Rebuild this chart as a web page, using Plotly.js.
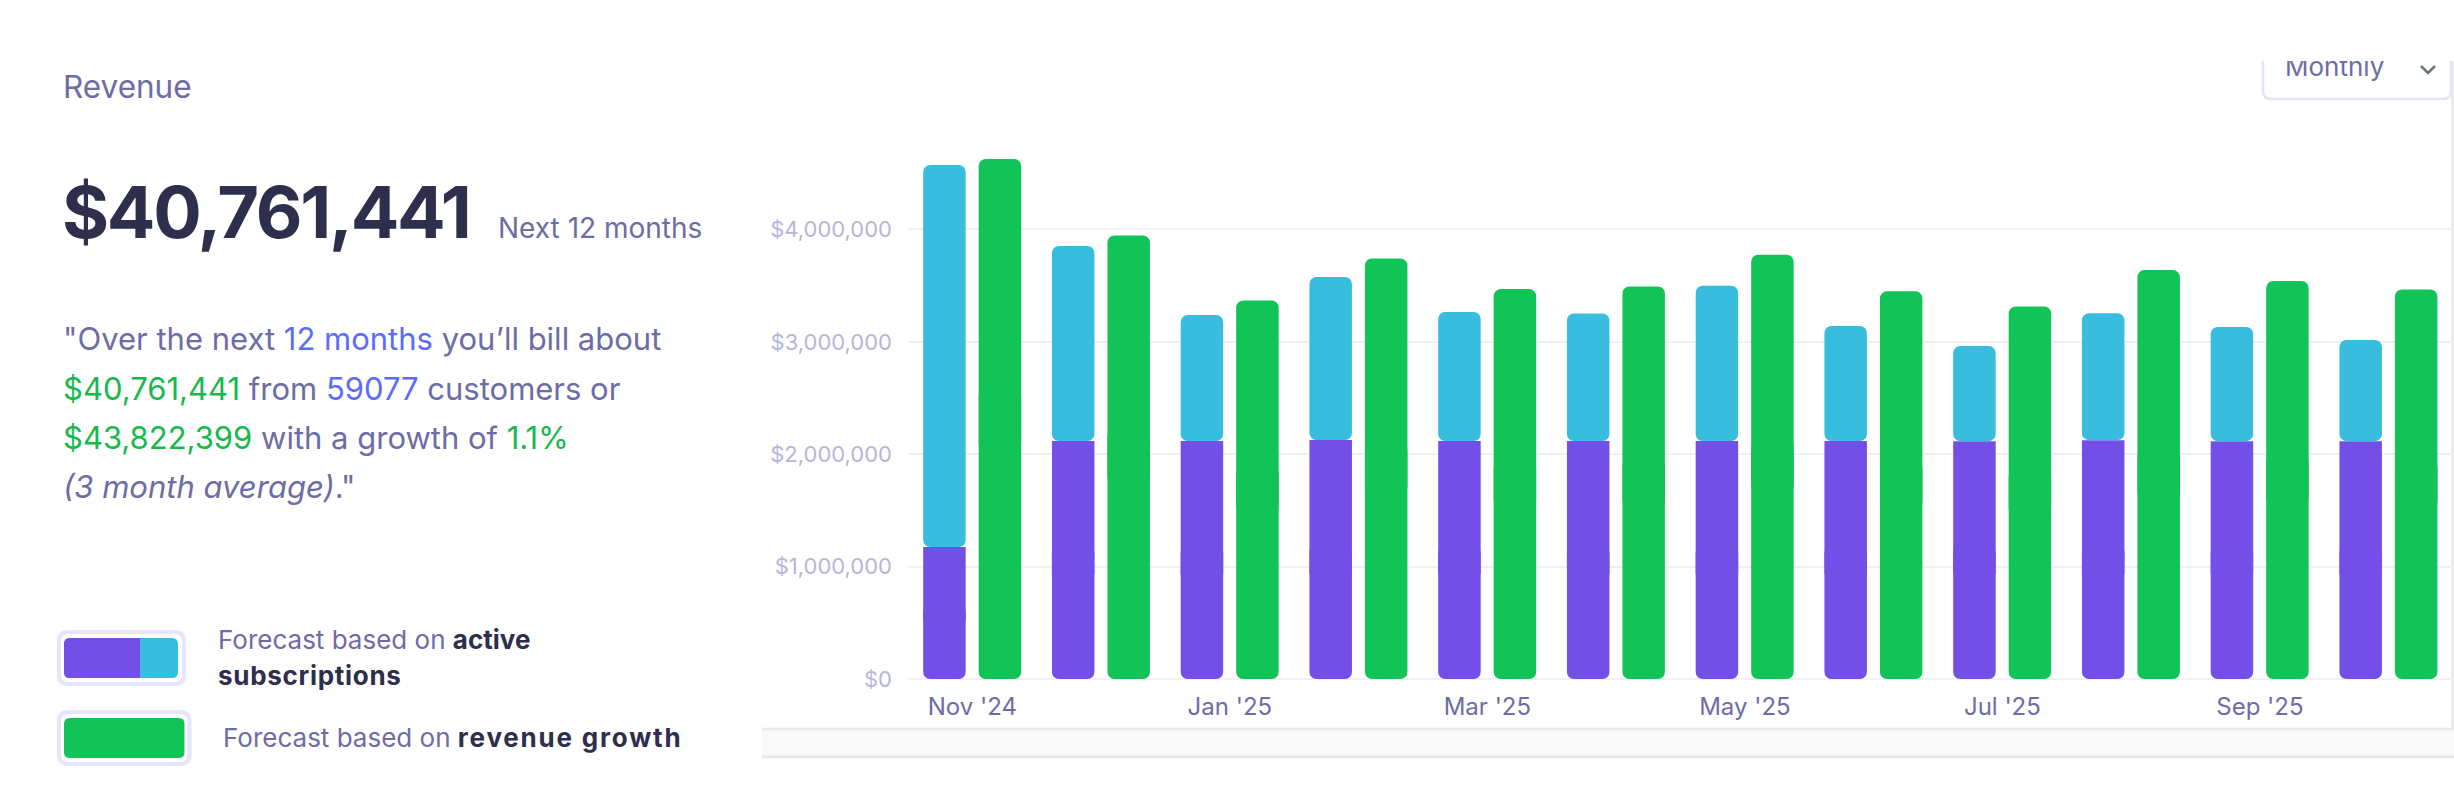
<!DOCTYPE html>
<html>
<head>
<meta charset="utf-8">
<script src="https://cdn.plot.ly/plotly-3.0.1.min.js"></script>
<style>
html,body{margin:0;padding:0;background:#fff;overflow:hidden}
#chart{width:2454px;height:806px;position:absolute;left:0;top:0}
#mask{position:absolute;left:2236px;top:0;width:218px;height:61px;background:#fff;z-index:10}
</style>
</head>
<body>
<div id="chart"></div>
<div id="mask"></div>
<script>
// ---------------- data ----------------
const months = ["Nov '24","Dec '24","Jan '25","Feb '25","Mar '25","Apr '25","May '25","Jun '25","Jul '25","Aug '25","Sep '25","Oct '25"];
const activeBase = [1175000,2117000,2117000,2127000,2117000,2117000,2117000,2117000,2116000,2125000,2116000,2116000];
const activeExtra = [3398000,1735000,1122000,1449000,1149000,1135000,1381000,1023000,846000,1130000,1016000,901000];
const growthForecast = [4627000,3946000,3367000,3742000,3469000,3493000,3775000,3449000,3314000,3638000,3542000,3465000];
const tickLabels = ["Nov '24","Jan '25","Mar '25","May '25","Jul '25","Sep '25"];
const yTicks = [0,1000000,2000000,3000000,4000000];
const yTickText = yTicks.map(v => '$' + v.toLocaleString('en-US'));

// ---------------- geometry helpers ----------------
const W = 2454, H = 806;
const ML = 908, MR = 1, MT = 117, MB = 127;
const PW = W - ML - MR, PH = H - MT - MB;
const fx = x => (x - ML) / PW;
const fy = y => (H - MB - y) / PH;

const PURPLE = '#734fe8', CYAN = '#38bddf', GREEN = '#12c357';
const TXT = '#6c6ca6', BLUE = '#5b6cfa', GRN = '#16b94e', DARK = '#2e2e4d';
const FONT = 'Inter, "Noto Sans", sans-serif';

function rr(x0, y0, x1, y1, r, corners) {
  const c = corners || [1,1,1,1];
  const P = (x, y) => fx(x) + ',' + fy(y);
  let d = 'M' + P(x0 + (c[0]?r:0), y0);
  d += ' L' + P(x1 - (c[1]?r:0), y0);
  if (c[1]) d += ' Q' + P(x1, y0) + ' ' + P(x1, y0 + r);
  d += ' L' + P(x1, y1 - (c[2]?r:0));
  if (c[2]) d += ' Q' + P(x1, y1) + ' ' + P(x1 - r, y1);
  d += ' L' + P(x0 + (c[3]?r:0), y1);
  if (c[3]) d += ' Q' + P(x0, y1) + ' ' + P(x0, y1 - r);
  d += ' L' + P(x0, y0 + (c[0]?r:0));
  if (c[0]) d += ' Q' + P(x0, y0) + ' ' + P(x0 + r, y0);
  return d + ' Z';
}
function pathShape(d, fill) {
  return {type:'path', xref:'paper', yref:'paper', path:d, fillcolor:fill,
          line:{color:'rgba(0,0,0,0)', width:0}, layer:'above'};
}
function lineShape(x0,y0,x1,y1,color,width){
  return {type:'line', xref:'paper', yref:'paper', x0:fx(x0), y0:fy(y0), x1:fx(x1), y1:fy(y1),
          line:{color:color, width:width}, layer:'below'};
}
function txt(x, yMid, text, size, color) {
  return {xref:'paper', yref:'paper', x:fx(x), y:fy(yMid), text:text,
    showarrow:false, xanchor:'left', yanchor:'middle',
    font:{family:FONT, size:size, color:color}};
}

// ---------------- bar traces ----------------
// each bar is drawn as two overlapping pieces so that both its ends get rounded corners
const BW = 0.33, OFF_A = -0.382, OFF_B = 0.049, R = 7;
const lowBase = a => a.map(v => v * 0.56);
const lowLen = a => a.map(v => -v * 0.56);
const highBase = a => a.map(v => v * 0.44);
const highLen = a => a.map(v => v * 0.56);
function bar(base, y, color, offset, radius) {
  return {type:'bar', x:months, y:y, base:base, width:BW, offset:offset,
    marker:{color:color, line:{width:0}, cornerradius:radius},
    hoverinfo:'skip', showlegend:false};
}
const traces = [
  bar(lowBase(activeBase), lowLen(activeBase), PURPLE, OFF_A, R),
  bar(highBase(activeBase), highLen(activeBase), PURPLE, OFF_A, 0),
  bar(activeBase, activeExtra, CYAN, OFF_A, R),
  bar(lowBase(growthForecast), lowLen(growthForecast), GREEN, OFF_B, R),
  bar(highBase(growthForecast), highLen(growthForecast), GREEN, OFF_B, R)
];

// ---------------- decorations ----------------
const shapes = [
  {type:'rect', xref:'paper', yref:'paper', x0:fx(762), x1:fx(2454), y0:fy(757), y1:fy(729),
   fillcolor:'#f9f9f9', line:{width:0}, layer:'below'},
  lineShape(762, 729, 2454, 729, '#e8e8ea', 2.5),
  lineShape(762, 757, 2454, 757, '#e8e8ea', 2.5),
  lineShape(2452.5, 61, 2452.5, 729, '#e8e8ea', 2.5),
  {type:'path', xref:'paper', yref:'paper',
   path:'M' + fx(2263)+','+fy(40) + ' L' + fx(2263)+','+fy(91) + ' Q' + fx(2263)+','+fy(99)+' '+fx(2271)+','+fy(99) +
        ' L' + fx(2443)+','+fy(99) + ' Q' + fx(2451)+','+fy(99)+' '+fx(2451)+','+fy(91) + ' L' + fx(2451)+','+fy(40),
   line:{color:'#e4e4f8', width:2.5}, layer:'above'},
  {type:'path', xref:'paper', yref:'paper',
   path:'M' + fx(2421)+','+fy(66) + ' L' + fx(2428)+','+fy(73) + ' L' + fx(2435)+','+fy(66),
   line:{color:'#6b7280', width:2.5}, layer:'above'},
  pathShape(rr(57, 630, 186, 686, 11), '#e6e6fb'),
  pathShape(rr(61, 634, 182, 682, 8), '#ffffff'),
  pathShape(rr(64, 638, 178, 678, 6), CYAN),
  pathShape(rr(64, 638, 140, 678, 6, [1,0,0,1]), PURPLE),
  pathShape(rr(57, 710, 191.5, 766, 11), '#e6e6fb'),
  pathShape(rr(61, 714, 187.5, 762, 8), '#ffffff'),
  pathShape(rr(64, 718, 184.5, 758, 6), GREEN)
];

const S = c => '<span style="color:' + c + '">';
const SB = (c, ls) => '<span style="color:' + c + ';letter-spacing:' + ls + 'px">';
const annotations = [
  txt(61, 86.7, 'Revenue', 31.5, TXT),
  txt(60, 212, '<b><span style="letter-spacing:-2.3px">$40,761,441</span></b>', 72, DARK),
  txt(496, 228, 'Next 12 months', 28, TXT),
  txt(61, 338.5, '"Over the next ' + S(BLUE) + '12 months</span> you’ll bill about', 31, TXT),
  txt(61, 388.4, S(GRN) + '$40,761,441</span> from ' + S(BLUE) + '59077</span> customers or', 31, TXT),
  txt(61, 437.3, S(GRN) + '$43,822,399</span> with a growth of ' + S(GRN) + '1.1%</span>', 31, TXT),
  txt(61, 486.6, '<i>(3 month average)</i>."', 31, TXT),
  txt(216, 639, 'Forecast based on <b>' + S(DARK) + 'active</span></b>', 26, TXT),
  txt(216, 675.6, '<b>' + SB(DARK, 0.7) + 'subscriptions</span></b>', 26, TXT),
  txt(221, 737.9, 'Forecast based on <b>' + SB(DARK, 1.8) + 'revenue growth</span></b>', 26, TXT),
  txt(2283, 66.6, 'Monthly', 26, TXT)
];

const layout = {
  width: W, height: H,
  margin: {l:ML, r:MR, t:MT, b:MB, pad:0},
  paper_bgcolor:'#ffffff', plot_bgcolor:'#ffffff',
  barmode:'overlay',
  showlegend:false,
  font:{family:FONT},
  xaxis:{type:'category', categoryorder:'array', categoryarray:months, range:[-0.5, 11.5],
    tickvals:tickLabels, ticktext:tickLabels, showgrid:false, zeroline:false, showline:false,
    ticks:'', ticklabelstandoff:11, tickfont:{family:FONT, size:24, color:TXT}, fixedrange:true},
  yaxis:{range:[0, 5000000], tickvals:yTicks, ticktext:yTickText,
    showgrid:true, gridcolor:'#f1f1f4', gridwidth:2, zeroline:true, zerolinecolor:'#f1f1f4', zerolinewidth:2,
    showline:false, ticks:'', ticklabelstandoff:15, tickfont:{family:FONT, size:22, color:'#b5b5dc'}, fixedrange:true},
  shapes: shapes,
  annotations: annotations
};

Plotly.newPlot('chart', traces, layout, {staticPlot:true, displayModeBar:false, responsive:false});
</script>
</body>
</html>
